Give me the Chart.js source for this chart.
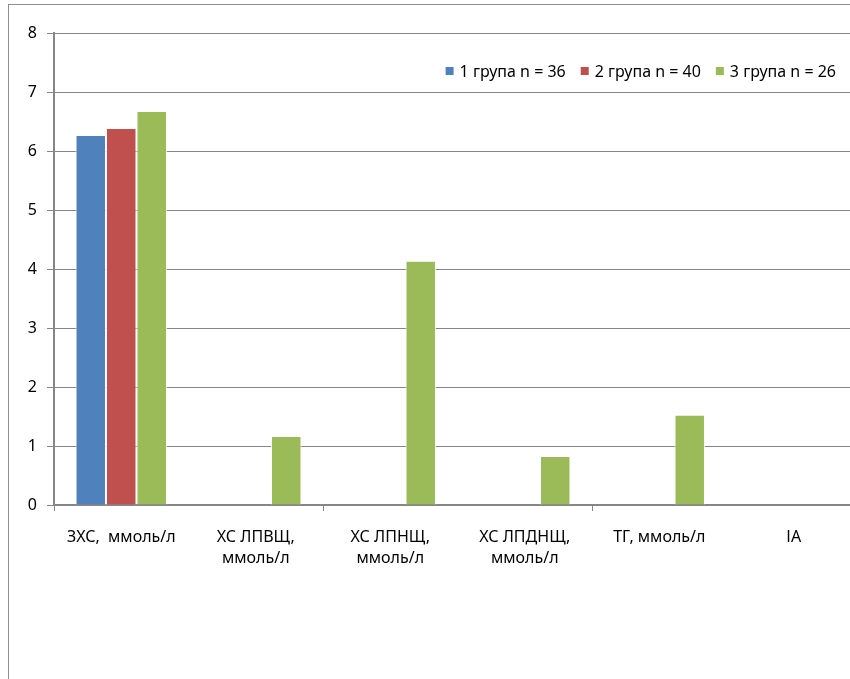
<!DOCTYPE html>
<html>
<head>
<meta charset="utf-8">
<script src="https://cdn.jsdelivr.net/npm/chart.js@4"></script>
<style>
  html, body { margin: 0; padding: 0; background: #fff; overflow: hidden; width: 850px; height: 679px; }
  #wrap { position: absolute; left: 0; top: 0; width: 870px; height: 679px; }
  #frame { position: absolute; left: 8px; top: 4px; width: 900px; height: 720px;
           border-left: 1px solid #8e8e8e; border-top: 1px solid #8e8e8e; pointer-events: none; }
</style>
</head>
<body>
<div id="wrap"><canvas id="c" width="870" height="679"></canvas></div>
<div id="frame"></div>
<script>
// Lipid profile indicators by patient group
const categories = [
  ['ЗХС,  ммоль/л'],
  ['ХС ЛПВЩ,', 'ммоль/л'],
  ['ХС ЛПНЩ,', 'ммоль/л'],
  ['ХС ЛПДНЩ,', 'ммоль/л'],
  ['ТГ, ммоль/л'],
  ['ІА']
];
const seriesNames = ['1 група n = 36', '2 група n = 40', '3 група n = 26'];
const group1 = [6.27, null, null, null, null, null];
const group2 = [6.39, null, null, null, null, null];
const group3 = [6.68, 1.17, 4.14, 0.83, 1.53, null];
const yTicks = [0, 1, 2, 3, 4, 5, 6, 7, 8];

const colors = ['#4F81BD', '#C0504D', '#9BBB59'];
const FONT = '"Noto Sans", "Liberation Sans", sans-serif';

const datasets = [group1, group2, group3].map((d, i) => ({
  label: seriesNames[i],
  data: d,
  backgroundColor: colors[i],
  borderColor: 'rgba(255,255,255,0.85)',
  borderWidth: 1,
  barPercentage: 1,
  categoryPercentage: 0.68
}));

// Legend drawn inside the plot area, right-aligned near the top
const insideLegend = {
  id: 'insideLegend',
  afterDraw(chart) {
    const ctx = chart.ctx;
    const right = 836, cy = 71, box = 8, gap = 6, itemGap = 15;
    ctx.save();
    ctx.font = '16px ' + FONT;
    ctx.textBaseline = 'middle';
    ctx.textAlign = 'left';
    const items = chart.data.datasets.map(ds => ({
      text: ds.label, color: ds.backgroundColor, w: ctx.measureText(ds.label).width
    }));
    const total = items.reduce((a, it) => a + box + gap + it.w, 0) + itemGap * (items.length - 1);
    let x = right - total;
    items.forEach(it => {
      ctx.fillStyle = it.color;
      ctx.fillRect(x, cy - box / 2, box, box);
      x += box + gap;
      ctx.fillStyle = '#000';
      ctx.fillText(it.text, x, cy + 1);
      x += it.w + itemGap;
    });
    ctx.restore();
  }
};

new Chart(document.getElementById('c'), {
  type: 'bar',
  data: { labels: categories, datasets },
  plugins: [insideLegend],
  options: {
    responsive: false,
    animation: false,
    devicePixelRatio: 1,
    layout: { padding: { top: 33, right: 9, left: 0, bottom: 100 } },
    plugins: {
      tooltip: { enabled: false },
      legend: { display: false }
    },
    scales: {
      x: {
        afterFit: s => { s.height = 74; },
        grid: {
          offset: true,
          drawOnChartArea: false,
          tickLength: 6,
          color: c => (c.index !== undefined && c.index % 2 === 1) ? 'rgba(0,0,0,0)' : '#868686'
        },
        border: { color: '#868686', width: 2 },
        ticks: {
          color: '#000',
          padding: 16,
          maxRotation: 0,
          autoSkip: false,
          font: { family: FONT, size: 16, lineHeight: 1.3 }
        }
      },
      y: {
        min: 0,
        max: 8,
        afterFit: s => { s.width = 54; },
        afterBuildTicks: s => { s.ticks = yTicks.map(v => ({ value: v })); },
        grid: { color: '#868686', tickLength: 7 },
        border: { color: '#868686', width: 2 },
        ticks: {
          color: '#000',
          padding: 10,
          font: { family: FONT, size: 16 }
        }
      }
    }
  }
});
</script>
</body>
</html>
